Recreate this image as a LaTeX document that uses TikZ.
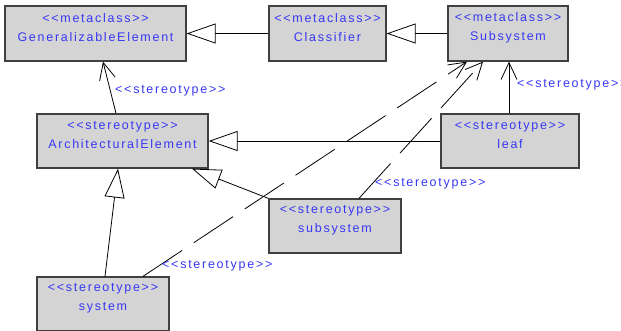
\documentclass[tikz,border=0pt]{standalone}
\usepackage{fontspec}
\setmainfont{Liberation Sans}[LetterSpace=13.9]
\usetikzlibrary{arrows.meta}
\definecolor{umlblue}{RGB}{55,55,245}
\definecolor{boxfill}{RGB}{212,212,212}
\definecolor{boxline}{RGB}{64,64,64}
\newcommand{\stereo}[1]{<{}<#1>{}>}
\begin{document}
\begin{tikzpicture}[x=1pt,y=-1pt,
  box/.style={draw=boxline, fill=boxfill, line width=1.3pt, inner sep=0pt, minimum height=55pt},
  txt/.style={text=umlblue, font=\fontsize{12.5}{19}\selectfont, align=center, inner sep=0pt},
  lbl/.style={text=umlblue, font=\fontsize{12.5}{14}\selectfont, inner sep=0pt, anchor=west},
  gen/.style={-{Triangle[open, length=29pt, width=20pt]}, line width=0.8pt},
  dep/.style={-{Straight Barb[length=17pt, width=16pt]}, line width=0.8pt},
  dashdep/.style={dep, dash pattern=on 47pt off 14pt}]
\useasboundingbox (0,0) rectangle (621,330);
\clip (0,0) rectangle (621,330);
% boxes
\node[box, minimum width=181pt] (ge) at (95.5,33.5) {};
\node[box, minimum width=117pt] (cl) at (327.5,33.5) {};
\node[box, minimum width=120pt] (ss) at (508,33.5) {};
\node[box, minimum width=171pt, minimum height=54pt] (ae) at (122.5,141) {};
\node[box, minimum width=138pt, minimum height=54pt] (leaf) at (510,141) {};
\node[box, minimum width=132pt, minimum height=54pt] (sub) at (335,226) {};
\node[box, minimum width=132pt, minimum height=54pt] (sys) at (103,304) {};
% box texts
\node[txt] (ge-t) at (95.5,27.5) {\stereo{metaclass}\\GeneralizableElement};
\node[txt] (cl-t) at (327.5,27.5) {\stereo{metaclass}\\Classifier};
\node[txt] (ss-t) at (508,27.5) {\stereo{metaclass}\\Subsystem};
\node[txt] (ae-t) at (122.5,135.5) {\stereo{stereotype}\\ArchitecturalElement};
\node[txt] (leaf-t) at (510,135.5) {\stereo{stereotype}\\leaf};
\node[txt] (sub-t) at (335,220.5) {\stereo{stereotype}\\subsystem};
\node[txt] (sys-t) at (103,298.5) {\stereo{stereotype}\\system};
% generalizations
\draw[gen] (cl.west) -- (ge.east);
\draw[gen] (ss.west) -- (cl.east);
\draw[gen] (leaf.west) -- (ae.east);
\draw[gen] (sub.north west) -- ([xshift=69.5pt]ae.south);
\draw[gen] ([xshift=2pt]sys.north) -- ([xshift=-4.5pt]ae.south);
% stereotype dependencies
\draw[dep] ([xshift=-6.5pt]ae.north) -- ([xshift=7.5pt]ge.south);
\draw[dep] ([xshift=-1pt]leaf.north) -- ([xshift=1pt]ss.south);
\draw[dashdep] ([xshift=40pt]sys.north) -- ([xshift=-41pt]ss.south);
\draw[dashdep] ([xshift=24pt]sub.north) -- ([xshift=-25pt]ss.south);
% labels
\node[lbl] (l-ae) at (115,91) {\stereo{stereotype}};
\node[lbl] (l-leaf) at (517,85) {\stereo{stereotype}};
\node[lbl] (l-sub) at (375,184) {\stereo{stereotype}};
\node[lbl] (l-sys) at (162,266) {\stereo{stereotype}};
\end{tikzpicture}
\end{document}
